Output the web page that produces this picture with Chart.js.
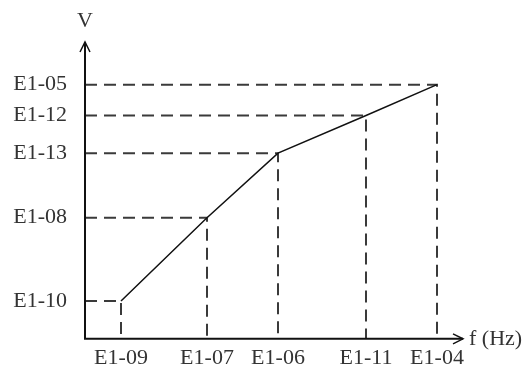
<!DOCTYPE html>
<html>
<head>
<meta charset="utf-8">
<script src="https://cdn.jsdelivr.net/npm/chart.js@4/dist/chart.umd.min.js"></script>
<style>
  html, body { margin: 0; padding: 0; background: #fff; }
  #wrap { width: 525px; height: 370px; }
</style>
</head>
<body>
<div id="wrap"><canvas id="vf"></canvas></div>
<script>
// V/f curve breakpoints (schematic units)
const fLabels = ['E1-09', 'E1-07', 'E1-06', 'E1-11', 'E1-04'];
const fValues = [36, 122, 193, 281, 352];
const vLabels = ['E1-10', 'E1-08', 'E1-13', 'E1-12', 'E1-05'];
const vValues = [38, 122, 187, 225, 256];
const fMax = 378;
const vMax = 299;

const serif = '"Liberation Serif", "DejaVu Serif", serif';
const textColor = '#333';
const dashColor = '#3a3a3a';

const curve = fValues.map((f, i) => ({ x: f, y: vValues[i] }));

// dashed guide lines from each breakpoint to both axes
const guides = curve.map(p => ({
    data: [{ x: 0, y: p.y }, { x: p.x, y: p.y }, { x: p.x, y: 0 }],
    borderColor: dashColor,
    borderWidth: 2,
    borderDash: [12, 7],
    pointRadius: 0,
    fill: false,
    tension: 0,
    clip: false
}));

const axisArrows = {
    id: 'axisArrows',
    afterDatasetsDraw(chart) {
        const { ctx, chartArea: a } = chart;
        ctx.save();
        ctx.strokeStyle = '#111';
        ctx.lineWidth = 2;
        // axes
        ctx.beginPath();
        ctx.moveTo(a.left, a.top);
        ctx.lineTo(a.left, a.bottom);
        ctx.lineTo(a.right, a.bottom);
        ctx.stroke();
        // arrow heads
        ctx.lineWidth = 1.5;
        ctx.beginPath();
        ctx.moveTo(a.left - 5, a.top + 10);
        ctx.lineTo(a.left, a.top);
        ctx.lineTo(a.left + 5, a.top + 10);
        ctx.moveTo(a.right - 10, a.bottom - 5);
        ctx.lineTo(a.right, a.bottom);
        ctx.lineTo(a.right - 10, a.bottom + 5);
        ctx.stroke();
        // axis names
        ctx.fillStyle = textColor;
        ctx.font = '22px ' + serif;
        ctx.textAlign = 'center';
        ctx.textBaseline = 'middle';
        ctx.fillText('V', a.left, a.top - 21);
        ctx.textAlign = 'left';
        ctx.fillText('f (Hz)', a.right + 6, a.bottom);
        ctx.restore();
    }
};

new Chart(document.getElementById('vf'), {
    type: 'line',
    data: {
        datasets: [
            {
                data: curve,
                borderColor: '#111',
                borderWidth: 1.5,
                pointRadius: 0,
                fill: false,
                tension: 0,
                clip: false
            },
            ...guides
        ]
    },
    options: {
        responsive: true,
        maintainAspectRatio: false,
        animation: false,
        layout: { padding: { top: 42, right: 62, left: 0, bottom: 0 } },
        plugins: { legend: { display: false }, tooltip: { enabled: false } },
        scales: {
            x: {
                type: 'linear',
                min: 0,
                max: fMax,
                grid: { display: false, drawTicks: false },
                border: { display: false },
                afterBuildTicks: axis => { axis.ticks = fValues.map(v => ({ value: v })); },
                afterFit: axis => { axis.height = 29; },
                ticks: {
                    autoSkip: false,
                    maxRotation: 0,
                    padding: 6,
                    color: textColor,
                    font: { family: serif, size: 22 },
                    callback: v => fLabels[fValues.indexOf(v)]
                }
            },
            y: {
                type: 'linear',
                min: 0,
                max: vMax,
                grid: { display: false, drawTicks: false },
                border: { display: false },
                afterBuildTicks: axis => { axis.ticks = vValues.map(v => ({ value: v })); },
                afterFit: axis => { axis.width = 85; },
                ticks: {
                    autoSkip: false,
                    padding: 18,
                    color: textColor,
                    font: { family: serif, size: 22 },
                    callback: v => vLabels[vValues.indexOf(v)]
                }
            }
        }
    },
    plugins: [axisArrows]
});
</script>
</body>
</html>
